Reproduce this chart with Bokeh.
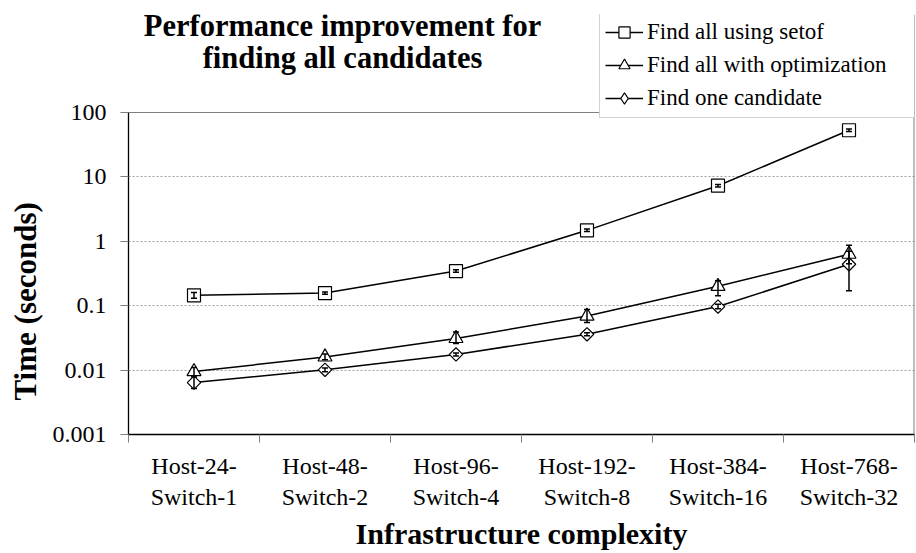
import math
from bokeh.plotting import figure
from bokeh.models import (ColumnDataSource, FixedTicker, CustomJSTickFormatter, Whisker,
                          TeeHead, Label, Span, Title)
from bokeh.embed import file_html
from bokeh.resources import INLINE

categories = ["Host-24-\nSwitch-1", "Host-48-\nSwitch-2", "Host-96-\nSwitch-4",
              "Host-192-\nSwitch-8", "Host-384-\nSwitch-16", "Host-768-\nSwitch-32"]
positions = [1, 2, 3, 4, 5, 6]

setof = [0.145, 0.157, 0.345, 1.48, 7.3, 53]
setof_lo = [0.13, 0.150, 0.330, 1.42, 7.0, 50.5]
setof_hi = [0.160, 0.163, 0.360, 1.55, 7.6, 55.5]

opt = [0.0095, 0.016, 0.031, 0.069, 0.2, 0.63]
opt_lo = [0.0082, 0.0145, 0.026, 0.055, 0.143, 0.45]
opt_hi = [0.011, 0.0178, 0.039, 0.087, 0.245, 0.87]

one = [0.0064, 0.0101, 0.0175, 0.036, 0.097, 0.44]
one_lo = [0.0052, 0.0094, 0.0165, 0.034, 0.09, 0.17]
one_hi = [0.0078, 0.0108, 0.0185, 0.038, 0.105, 0.70]

y_ticks = [0.001, 0.01, 0.1, 1, 10, 100]

FONT = "Liberation Serif"
W, H = 916, 553
F_LEFT, F_RIGHT_PAD, F_TOP, F_BOTTOM_PAD = 127, 2, 14, 119
AXIS_TOP_PX = 112  # pixel where the value 100 sits
frame_h = H - F_TOP - F_BOTTOM_PAD
px_per_dec = (frame_h - (AXIS_TOP_PX - F_TOP)) / 5.0
y_end = 10 ** (math.log10(y_ticks[0]) + frame_h / px_per_dec)

p = figure(width=W, height=H, x_range=(0.5, 6.5), y_range=(y_ticks[0], y_end),
           y_axis_type="log", output_backend="svg", toolbar_location=None,
           min_border_left=F_LEFT, min_border_right=F_RIGHT_PAD, min_border_top=F_TOP,
           min_border_bottom=F_BOTTOM_PAD)
p.background_fill_color = "white"
p.border_fill_color = "white"
p.outline_line_color = None

# axes
xa = p.xaxis[0]
xa.ticker = FixedTicker(ticks=positions, minor_ticks=[0.5, 1.5, 2.5, 3.5, 4.5, 5.5, 6.5])
xa.formatter = CustomJSTickFormatter(args=dict(labels=categories),
                                     code="return labels[Math.round(tick) - 1]")
xa.major_tick_line_color = None
xa.major_tick_out = 8
xa.major_tick_in = 0
xa.minor_tick_out = 8
xa.minor_tick_in = 0
xa.minor_tick_line_color = "#808080"
xa.major_label_standoff = 10
xa.axis_line_color = "black"
xa.axis_line_width = 1.3
xa.major_label_text_font = FONT
xa.major_label_text_font_size = "24px"
xa.major_label_text_color = "black"
xa.axis_label = "Infrastructure complexity"
xa.axis_label_text_font = FONT
xa.axis_label_text_font_size = "30px"
xa.axis_label_text_font_style = "bold"
xa.axis_label_text_color = "black"
xa.axis_label_standoff = 4

ya = p.yaxis[0]
ya.ticker = FixedTicker(ticks=y_ticks, minor_ticks=[])
ya.formatter = CustomJSTickFormatter(code="return tick.toString()")
ya.bounds = (y_ticks[0], y_ticks[-1])
ya.major_tick_out = 8
ya.major_tick_in = 0
ya.major_tick_line_color = "#808080"
ya.minor_tick_line_color = None
ya.major_label_standoff = 14
ya.axis_line_color = "black"
ya.axis_line_width = 1.3
ya.major_label_text_font = FONT
ya.major_label_text_font_size = "24px"
ya.major_label_text_color = "black"

p.xgrid.visible = False
p.ygrid.grid_line_color = "#a0a0a0"
p.ygrid.grid_line_dash = "2 2"
p.ygrid.grid_line_width = 1

# plot-area border (top and right)
p.add_layout(Span(location=y_ticks[-1], dimension="width", line_color="#808080",
                  line_width=1, level="underlay"))
p.add_layout(Span(location=6.5, dimension="height", line_color="#808080",
                  line_width=2, level="underlay"))

series = [
    ("Find all using setof", setof, setof_lo, setof_hi, "square", 13, 0.0, "square"),
    ("Find all with optimization", opt, opt_lo, opt_hi, "triangle", 14, 0.0, "triangle"),
    ("Find one candidate", one, one_lo, one_hi, "square", 9.5, math.pi / 4, "diamond"),
]

NAN = float("nan")
for name, vals, lo, hi, marker, size, ang, leg_marker in series:
    src = ColumnDataSource(dict(x=positions, y=vals, lo=lo, hi=hi))
    p.line("x", "y", source=src, line_color="black", line_width=1.5, legend_label=name)
    if leg_marker == marker:
        p.scatter("x", "y", source=src, marker=marker, size=size, angle=ang,
                  fill_color="white", line_color="black", line_width=1.2, legend_label=name)
    else:
        p.scatter("x", "y", source=src, marker=marker, size=size, angle=ang,
                  fill_color="white", line_color="black", line_width=1.2)
        # legend-only key glyph (holds no visible point) so the key shows a diamond
        key_src = ColumnDataSource(dict(x=[NAN], y=[NAN]))
        p.scatter("x", "y", source=key_src, marker=leg_marker, size=size,
                  fill_color="white", line_color="black", line_width=1.2,
                  legend_label=name)
    w = Whisker(source=src, base="x", lower="lo", upper="hi", dimension="height",
                line_color="black", line_width=1.5, level="annotation",
                upper_head=TeeHead(size=6, line_color="black", line_width=1.5),
                lower_head=TeeHead(size=6, line_color="black", line_width=1.5))
    p.add_layout(w)

leg = p.legend[0]
leg.location = (471, 316)
leg.label_text_font = FONT
leg.label_text_font_size = "23px"
leg.label_text_color = "black"
leg.border_line_color = "#a6a6a6"
leg.border_line_width = 1
leg.background_fill_color = "white"
leg.background_fill_alpha = 1
leg.padding = 5
leg.spacing = 5
leg.margin = 0
leg.glyph_width = 38
leg.glyph_height = 28
leg.label_height = 28
leg.label_width = 270
leg.label_standoff = 4

# chart title (inside the extended frame area, screen units relative to the frame)
p.add_layout(Label(x=214, y=409, x_units="screen", y_units="screen",
                   text="Performance improvement for", text_font=FONT,
                   text_font_size="30.5px", text_font_style="bold",
                   text_align="center", text_baseline="alphabetic", text_color="black"))
p.add_layout(Label(x=214, y=377, x_units="screen", y_units="screen",
                   text="finding all candidates", text_font=FONT,
                   text_font_size="30.5px", text_font_style="bold",
                   text_align="center", text_baseline="alphabetic", text_color="black"))

# y axis title
p.add_layout(Title(text="Time (seconds)", align="left", offset=34, text_font=FONT,
                   text_font_size="31px", text_font_style="bold", text_color="black",
                   vertical_align="middle", standoff=12), "left")

open("out.html", "w").write(file_html(p, INLINE))
